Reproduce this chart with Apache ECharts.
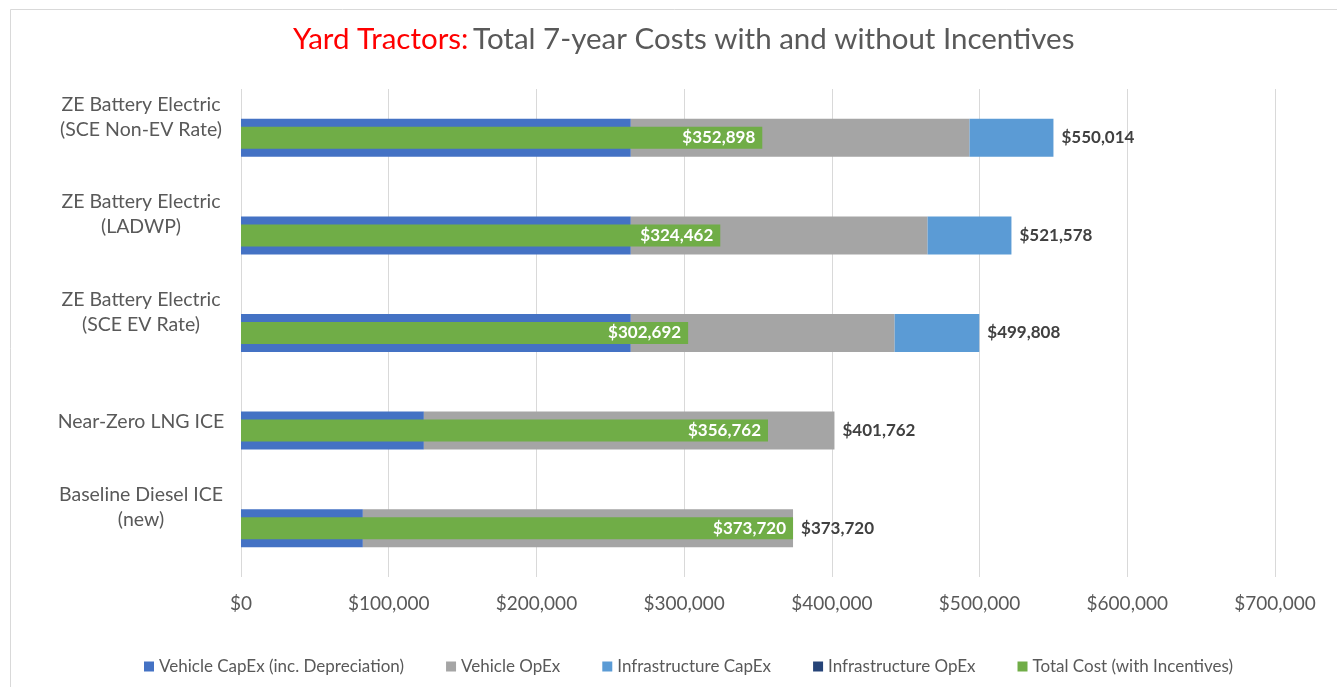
<!DOCTYPE html>
<html>
<head>
<meta charset="utf-8">
<script src="https://cdn.jsdelivr.net/npm/echarts@6/dist/echarts.min.js"></script>
<style>
  html, body { margin: 0; padding: 0; background: #fff; }
  #main { width: 1337px; height: 687px; }
</style>
</head>
<body>
<div id="main"></div>
<script>
// categories, bottom to top
var categories = [
    'Baseline Diesel ICE\n(new)',
    'Near-Zero LNG ICE',
    'ZE Battery Electric\n(SCE EV Rate)',
    'ZE Battery Electric\n(LADWP)',
    'ZE Battery Electric\n(SCE Non-EV Rate)'
];
var vehicleCapex = [82500, 123800, 263900, 263900, 263900];
var vehicleOpex = [291220, 277962, 178600, 200900, 229300];
var infraCapex = [0, 0, 57308, 56778, 56814];
var infraOpex = [0, 0, 0, 0, 0];
var totalWithIncentives = [373720, 356762, 302692, 324462, 352898];
var xTicks = [0, 100000, 200000, 300000, 400000, 500000, 600000, 700000];

var FONT = 'Lato';

function money(v) {
    return '$' + Math.round(v).toLocaleString('en-US');
}

function totalAt(i) {
    return vehicleCapex[i] + vehicleOpex[i] + infraCapex[i] + infraOpex[i];
}

var myChart = echarts.init(document.getElementById('main'));
myChart.setOption({
    backgroundColor: '#fff',
    textStyle: { fontFamily: FONT },
    graphic: [{
        type: 'rect',
        shape: { x: 10.5, y: 9.5, width: 1400, height: 700 },
        style: { fill: 'none', stroke: '#d9d9d9', lineWidth: 1 },
        silent: true
    }],
    title: {
        text: '{red|Yard Tractors:} {gray|Total 7-year Costs with and without Incentives}',
        left: 288,
        top: 19,
        textStyle: {
            fontWeight: 'normal',
            rich: {
                red: { color: '#ff0000', fontSize: 29.5, fontFamily: FONT, fontWeight: 'normal' },
                gray: { color: '#595959', fontSize: 29.5, fontFamily: FONT, fontWeight: 'normal' }
            }
        }
    },
    legend: {
        bottom: 7,
        left: 139,
        itemWidth: 10,
        itemHeight: 10,
        itemGap: 42,
        icon: 'rect',
        textStyle: { color: '#595959', fontSize: 17, fontFamily: FONT },
        data: ['Vehicle CapEx (inc. Depreciation)', 'Vehicle OpEx', 'Infrastructure CapEx',
            'Infrastructure OpEx', 'Total Cost (with Incentives)']
    },
    grid: {
        left: 241,
        right: 62,
        top: 89,
        bottom: 110,
        containLabel: false
    },
    xAxis: {
        type: 'value',
        min: 0,
        max: 700000,
        interval: 100000,
        axisLine: { show: false },
        axisTick: { show: false },
        splitLine: { show: true, lineStyle: { color: '#d9d9d9' } },
        axisLabel: {
            color: '#595959',
            fontSize: 19,
            margin: 17,
            formatter: function (v) { return xTicks.indexOf(v) >= 0 ? money(v) : ''; }
        }
    },
    yAxis: [{
        type: 'category',
        data: categories,
        axisLine: { show: false },
        axisTick: { show: false },
        axisLabel: {
            color: '#595959',
            fontSize: 19.5,
            lineHeight: 25,
            align: 'center',
            verticalAlign: 'bottom',
            padding: [0, 0, -4, 0],
            margin: 100
        }
    }, {
        type: 'category',
        data: categories,
        show: false
    }],
    series: [{
        name: 'Vehicle CapEx (inc. Depreciation)',
        type: 'bar',
        stack: 'cost',
        barWidth: 38,
        itemStyle: { color: '#4472c4' },
        data: vehicleCapex
    }, {
        name: 'Vehicle OpEx',
        type: 'bar',
        stack: 'cost',
        barWidth: 38,
        itemStyle: { color: '#a5a5a5' },
        data: vehicleOpex
    }, {
        name: 'Infrastructure CapEx',
        type: 'bar',
        stack: 'cost',
        barWidth: 38,
        itemStyle: { color: '#5b9bd5' },
        data: infraCapex
    }, {
        name: 'Infrastructure OpEx',
        type: 'bar',
        stack: 'cost',
        barWidth: 38,
        itemStyle: { color: '#264478' },
        label: {
            show: true,
            position: 'right',
            distance: 8,
            color: '#404040',
            fontWeight: 'bold',
            fontSize: 17,
            formatter: function (p) { return money(totalAt(p.dataIndex)); }
        },
        data: infraOpex
    }, {
        name: 'Total Cost (with Incentives)',
        type: 'bar',
        yAxisIndex: 1,
        barWidth: 22,
        itemStyle: { color: '#70ad47' },
        label: {
            show: true,
            position: 'insideRight',
            distance: 7,
            color: '#fff',
            fontWeight: 'bold',
            fontSize: 17,
            formatter: function (p) { return money(p.value); }
        },
        data: totalWithIncentives
    }]
});
</script>
</body>
</html>
